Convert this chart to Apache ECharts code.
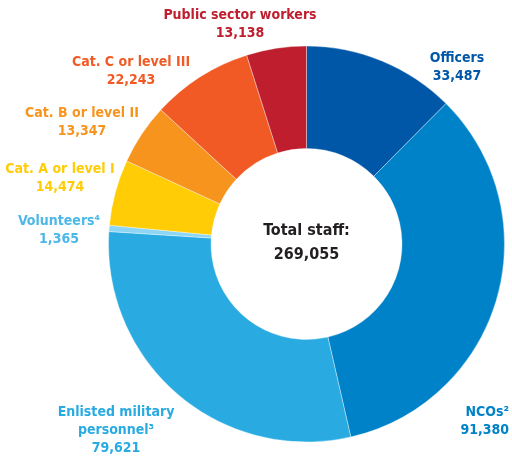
<!DOCTYPE html>
<html><head><meta charset="utf-8">
<script src="https://cdn.jsdelivr.net/npm/echarts@6/dist/echarts.min.js"></script>
<style>html,body{margin:0;padding:0;background:#fff}#c{width:512px;height:456px}</style>
</head><body><div id="c"></div>
<script>
var categories = ['Officers', 'NCOs²', 'Enlisted military\npersonnel³', 'Volunteers⁴', 'Cat. A or level I', 'Cat. B or level II', 'Cat. C or level III', 'Public sector workers'];
var values = [33487, 91380, 79621, 1365, 14474, 13347, 22243, 13138];
var sliceColors = ['#0057a8', '#0082c8', '#29abe2', '#8dd5f5', '#ffcc05', '#f7941e', '#f15a25', '#be1e2d'];
var labelColors = ['#0057a8', '#0082c8', '#29abe2', '#4cb8e8', '#ffcc05', '#f7941e', '#f15a25', '#be1e2d'];
var totalLabel = 'Total staff:';
var totalValue = values.reduce(function(a,b){return a+b;},0);
// label anchor positions (layout only)
var labelPos = [[457,67],[509,421],[116,430],[59,230],[60,178],[82,122],[131,71],[240,24]];
var labelAlign = ['center','right','center','center','center','center','center','center'];

var FONT = '"Liberation Sans Narrow","DejaVu Sans Condensed","Roboto",sans-serif';
function fmt(v){return v.toLocaleString('en-US');}

var chart = echarts.init(document.getElementById('c'), null, {renderer:'canvas'});
chart.setOption({
  animation:false,
  graphic:[{
    type:'text', x:306.5, y:243, z:100,
    style:{text: totalLabel + '\n' + fmt(totalValue), align:'center', verticalAlign:'middle',
      fill:'#231f20', font:'bold 16px ' + FONT, lineHeight:24}
  }],
  series:[{
    type:'pie',
    center:[306.5,244],
    radius:[95.5,198],
    startAngle:90,
    clockwise:true,
    avoidLabelOverlap:false,
    itemStyle:{borderColor:'rgba(255,255,255,0.6)', borderWidth:0.6},
    emphasis:{disabled:true},
    labelLine:{show:false},
    label:{
      show:true, position:'outside',
      fontFamily:FONT, fontWeight:'bold', fontSize:14, lineHeight:18,
      formatter:function(p){return p.name + '\n' + fmt(p.value);}
    },
    labelLayout:function(p){
      var i = p.dataIndex;
      return {x:labelPos[i][0], y:labelPos[i][1], align:labelAlign[i], verticalAlign:'middle'};
    },
    data: categories.map(function(n,i){
      return {name:n, value:values[i], itemStyle:{color:sliceColors[i]},
        label:{color:labelColors[i], align:labelAlign[i]}};
    })
  }]
});
</script></body></html>
